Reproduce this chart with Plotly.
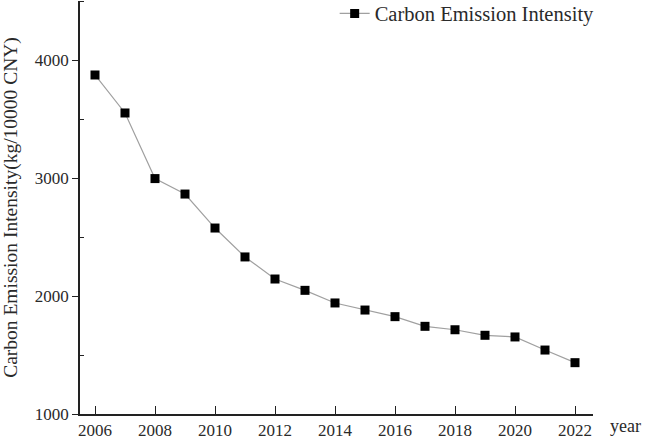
import plotly.graph_objects as go

years = [2006, 2007, 2008, 2009, 2010, 2011, 2012, 2013, 2014, 2015, 2016, 2017, 2018, 2019, 2020, 2021, 2022]
intensity = [3873, 3551, 2995, 2864, 2576, 2331, 2144, 2048, 1941, 1881, 1825, 1743, 1714, 1667, 1653, 1542, 1435]
series_name = "Carbon Emission Intensity"
x_ticks = [2006, 2008, 2010, 2012, 2014, 2016, 2018, 2020, 2022]
y_ticks = [1000, 2000, 3000, 4000]

font_family = "Liberation Serif, Times New Roman, serif"
text_color = "#2a2a2a"

fig = go.Figure()
fig.add_trace(go.Scatter(
    x=years, y=intensity, name=series_name, mode="lines+markers",
    line=dict(color="#a0a0a0", width=1.2),
    marker=dict(symbol="square", size=9, color="#000000"),
))

fig.update_layout(
    width=645, height=440,
    margin=dict(l=80, r=52, t=1, b=26, autoexpand=False),
    paper_bgcolor="white", plot_bgcolor="white",
    font=dict(family=font_family, size=17, color=text_color),
    showlegend=True,
    legend=dict(x=1.013, xanchor="right", y=1.018, yanchor="top",
                font=dict(size=20.5, color=text_color), bgcolor="rgba(0,0,0,0)",
                itemwidth=30, tracegroupgap=0),
    xaxis=dict(
        range=[2005.5, 2022.6], tickvals=x_ticks, ticks="inside", ticklen=8,
        tickcolor="#222", tickwidth=1.3, showline=True, linecolor="#222", linewidth=1.5,
        showgrid=False, zeroline=False, tickfont=dict(size=17, color=text_color),
    ),
    yaxis=dict(
        range=[1000, 4500], tickvals=y_ticks, ticks="outside", ticklen=6,
        tickcolor="#222", tickwidth=1.3, showline=True, linecolor="#222", linewidth=1.5,
        showgrid=False, zeroline=False, tickfont=dict(size=17, color=text_color),
        minor=dict(tickvals=[1500, 2500, 3500, 4500], ticks="inside", ticklen=4,
                   tickcolor="#222", tickwidth=1.2, showgrid=False),
        title=dict(text="Carbon Emission Intensity(kg/10000 CNY)", font=dict(size=19.5, color=text_color), standoff=12),
    ),
    annotations=[dict(text="year", xref="paper", yref="paper", x=1.03, y=0, xanchor="left",
                      yanchor="top", yshift=0, showarrow=False, font=dict(size=18, color=text_color))],
)

fig.write_html("out.html", config={"displayModeBar": False},
               post_script="document.body.style.margin='0';document.body.style.overflow='hidden';")
